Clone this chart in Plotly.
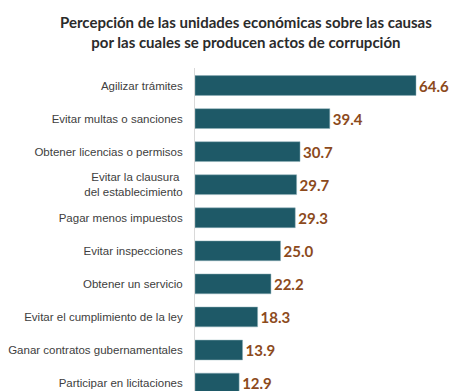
import plotly.graph_objects as go

categories = [
    "Agilizar trámites",
    "Evitar multas o sanciones",
    "Obtener licencias o permisos",
    "Evitar la clausura <br>del establecimiento",
    "Pagar menos impuestos",
    "Evitar inspecciones",
    "Obtener un servicio",
    "Evitar el cumplimiento de la ley",
    "Ganar contratos gubernamentales",
    "Participar en licitaciones",
]
values = [64.6, 39.4, 30.7, 29.7, 29.3, 25.0, 22.2, 18.3, 13.9, 12.9]

title_text = ("Percepción de las unidades económicas sobre las causas<br>"
              "por las cuales se producen actos de corrupción")

fig = go.Figure(go.Bar(
    x=values,
    y=categories,
    orientation="h",
    marker=dict(color="#1e5967", line=dict(color="#8fb1b8", width=0.5)),
    texttemplate="%{x:.1f}",
    textposition="outside",
    textfont=dict(family="Lato", size=15, color="#8c4a1c", weight="bold"),
    constraintext="none",
    cliponaxis=False,
))

fig.add_annotation(
    text=title_text,
    xref="paper", yref="paper",
    x=(246 - 195) / 260, y=(391 - 11) / 323,
    xanchor="center", yanchor="top",
    showarrow=False, align="center",
    font=dict(family="Lato", size=15, color="#2b2b2b", weight="bold"),
)

fig.update_layout(
    width=455, height=391,
    margin=dict(l=195, r=0, t=68, b=0),
    paper_bgcolor="white", plot_bgcolor="white",
    bargap=0.4,
    showlegend=False,
    xaxis=dict(range=[0, 76], visible=False),
    yaxis=dict(
        range=[9.24, -0.53],
        showline=True, linecolor="#d9d9d9", linewidth=1,
        showgrid=False, ticks="",
        ticklabelstandoff=9,
        tickfont=dict(family="Liberation Sans", size=11.5, color="#404040"),
    ),
)

fig.write_html("out.html")
